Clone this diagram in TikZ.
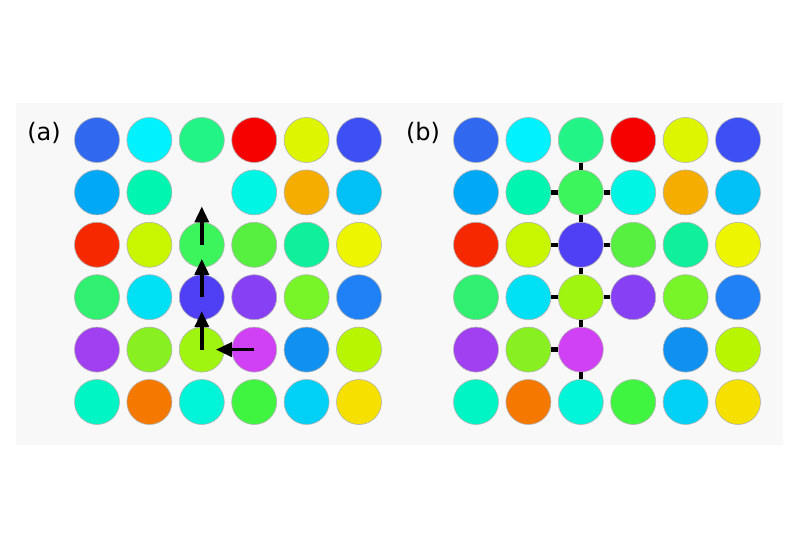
\documentclass[tikz,border=0pt]{standalone}
\usepackage{fontspec}
\newfontfamily\panelfont{DejaVu Sans}
\usetikzlibrary{arrows.meta}
\definecolor{panelgray}{HTML}{F8F8F8}
\definecolor{blueA}{HTML}{3068F0}
\definecolor{cyanA}{HTML}{00F2FF}
\definecolor{springA}{HTML}{22F585}
\definecolor{redA}{HTML}{F70000}
\definecolor{lemonA}{HTML}{DDF500}
\definecolor{blueB}{HTML}{3C50F5}
\definecolor{azureA}{HTML}{00A8F5}
\definecolor{aquaA}{HTML}{00F5B0}
\definecolor{cyanB}{HTML}{00F5E5}
\definecolor{orangeA}{HTML}{F5AE00}
\definecolor{skyA}{HTML}{00C0F5}
\definecolor{redB}{HTML}{F52800}
\definecolor{lemonB}{HTML}{C8F500}
\definecolor{greenA}{HTML}{3CF55C}
\definecolor{greenB}{HTML}{58F040}
\definecolor{aquaB}{HTML}{10F09A}
\definecolor{yellowA}{HTML}{EEF500}
\definecolor{greenC}{HTML}{30F070}
\definecolor{cyanC}{HTML}{00E0F5}
\definecolor{indigoA}{HTML}{5040F5}
\definecolor{violetA}{HTML}{8840F5}
\definecolor{greenD}{HTML}{78F528}
\definecolor{blueC}{HTML}{2080F5}
\definecolor{purpleA}{HTML}{A040F0}
\definecolor{greenE}{HTML}{88F020}
\definecolor{limeA}{HTML}{A0F510}
\definecolor{magentaA}{HTML}{D040F5}
\definecolor{blueD}{HTML}{1090F0}
\definecolor{limeB}{HTML}{B8F500}
\definecolor{aquaC}{HTML}{00F5C5}
\definecolor{orangeB}{HTML}{F57800}
\definecolor{aquaD}{HTML}{00F5D8}
\definecolor{greenF}{HTML}{40F540}
\definecolor{skyB}{HTML}{00D0F5}
\definecolor{goldA}{HTML}{F5E000}
\tikzset{cell/.style={circle,draw=black!30,line width=.6pt,fill=#1,minimum size=45pt,inner sep=0pt},
move/.style={line width=3.5pt,-{Triangle[length=16pt,width=14pt]},shorten >=14pt},
link/.style={line width=4.5pt},
panellabel/.style={font=\panelfont\fontsize{24}{28}\selectfont,inner sep=0pt}}
\def\hole{x}

\begin{document}
\begin{tikzpicture}[x=1pt,y=-1pt]
\useasboundingbox (0,0) rectangle (800,533);
\fill[white] (0,0) rectangle (800,533);
\fill[panelgray] (16,103) rectangle (783,445);
\node[panellabel] (lbla) at (44,133) {(a)};
\node[panellabel] (lblb) at (423,133) {(b)};
% grid (a), x marks the empty site
\foreach \row [count=\j] in {{blueA,cyanA,springA,redA,lemonA,blueB},{azureA,aquaA,x,cyanB,orangeA,skyA},{redB,lemonB,greenA,greenB,aquaB,yellowA},{greenC,cyanC,indigoA,violetA,greenD,blueC},{purpleA,greenE,limeA,magentaA,blueD,limeB},{aquaC,orangeB,aquaD,greenF,skyB,goldA}}
  \foreach \c [count=\i] in \row {
    \edef\tmp{\c}
    \ifx\tmp\hole \coordinate (a-\j-\i) at ({97+52.4*(\i-1)},{140+52.4*(\j-1)});
    \else \node[cell=\c] (a-\j-\i) at ({97+52.4*(\i-1)},{140+52.4*(\j-1)}) {};
    \fi
  }
% grid (b)
\foreach \row [count=\j] in {{blueA,cyanA,springA,redA,lemonA,blueB},{azureA,aquaA,greenA,cyanB,orangeA,skyA},{redB,lemonB,indigoA,greenB,aquaB,yellowA},{greenC,cyanC,limeA,violetA,greenD,blueC},{purpleA,greenE,magentaA,x,blueD,limeB},{aquaC,orangeB,aquaD,greenF,skyB,goldA}}
  \foreach \c [count=\i] in \row {
    \edef\tmp{\c}
    \ifx\tmp\hole \coordinate (b-\j-\i) at ({476+52.4*(\i-1)},{140+52.4*(\j-1)});
    \else \node[cell=\c] (b-\j-\i) at ({476+52.4*(\i-1)},{140+52.4*(\j-1)}) {};
    \fi
  }
% moves
\draw[move] (a-3-3.center) -- (a-2-3.center);
\draw[move] (a-4-3.center) -- (a-3-3.center);
\draw[move] (a-5-3.center) -- (a-4-3.center);
\draw[move] (a-5-4.center) -- (a-5-3.center);
% links
\draw[link] (b-1-3) -- (b-2-3) -- (b-3-3) -- (b-4-3) -- (b-5-3) -- (b-6-3);
\draw[link] (b-2-2) -- (b-2-3) -- (b-2-4);
\draw[link] (b-3-2) -- (b-3-3) -- (b-3-4);
\draw[link] (b-4-2) -- (b-4-3) -- (b-4-4);
\draw[link] (b-5-2) -- (b-5-3);
\end{tikzpicture}
\end{document}
